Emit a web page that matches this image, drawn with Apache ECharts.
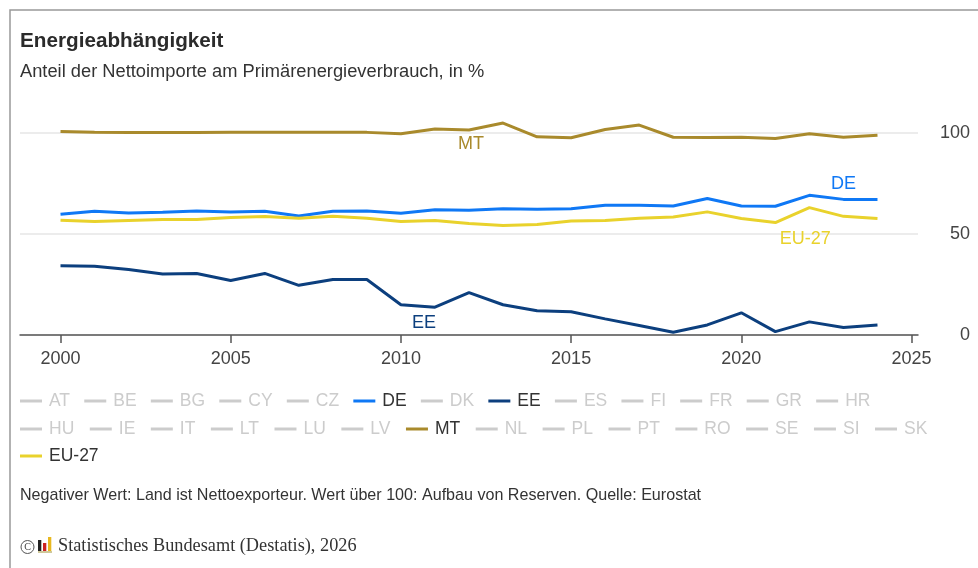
<!DOCTYPE html>
<html>
<head>
<meta charset="utf-8">
<title>Energieabhängigkeit</title>
<script src="https://cdn.jsdelivr.net/npm/echarts@6/dist/echarts.min.js"></script>
<style>
  html, body { margin: 0; padding: 0; background: #fff; }
  #chart { width: 978px; height: 568px; }
</style>
</head>
<body>
<div id="chart"></div>
<script>
const years = [2000, 2001, 2002, 2003, 2004, 2005, 2006, 2007, 2008, 2009, 2010, 2011, 2012,
  2013, 2014, 2015, 2016, 2017, 2018, 2019, 2020, 2021, 2022, 2023, 2024]
const xTicks = [2000, 2005, 2010, 2015, 2020, 2025]

const valuesMT = [100.8, 100.4, 100.3, 100.3, 100.3, 100.5, 100.5, 100.5, 100.5, 100.4, 99.7, 102.1, 101.6,
  105, 98.2, 97.7, 101.8, 104, 98, 97.8, 98, 97.4, 99.7, 98, 99]
const valuesDE = [59.8, 61.3, 60.5, 60.8, 61.4, 60.9, 61.3, 59, 61.3, 61.4, 60.3, 62.1, 61.8,
  62.5, 62.3, 62.6, 64.3, 64.3, 63.9, 67.6, 63.9, 63.8, 69.2, 67.2, 67.2]
const valuesEU = [56.8, 56.2, 56.7, 57.2, 57.2, 58.2, 58.7, 57.8, 58.8, 57.8, 56.2, 56.7, 55.3,
  54.3, 54.8, 56.5, 56.7, 57.8, 58.5, 61, 57.7, 55.7, 63.1, 58.8, 57.7]
const valuesEE = [34.3, 34.1, 32.5, 30.2, 30.5, 27, 30.5, 24.6, 27.5, 27.5, 15, 13.8, 21,
  15, 12, 11.5, 8, 4.7, 1.4, 5, 11, 1.7, 6.5, 3.7, 4.9]

const legendRow1 = ['AT', 'BE', 'BG', 'CY', 'CZ', 'DE', 'DK', 'EE', 'ES', 'FI', 'FR', 'GR', 'HR']
const legendRow2 = ['HU', 'IE', 'IT', 'LT', 'LU', 'LV', 'MT', 'NL', 'PL', 'PT', 'RO', 'SE', 'SI', 'SK']
const legendRow3 = ['EU-27']
const shown = ['DE', 'EE', 'MT', 'EU-27']

const titleText = 'Energieabhängigkeit'
const subtitleText = 'Anteil der Nettoimporte am Primärenergieverbrauch, in %'
const noteText = 'Negativer Wert: Land ist Nettoexporteur. Wert über 100: Aufbau von Reserven. Quelle: Eurostat'
const copyrightText = 'Statistisches Bundesamt (Destatis), 2026'

const FONT = '"Liberation Sans", Arial, sans-serif'
const colors = { DE: '#0f78f5', EE: '#0c3f7e', MT: '#a98a2c', 'EU-27': '#e9d22c' }

// where the direct label sits on each highlighted line
const directLabels = {
  DE: { year: 2023, position: 'top', offset: [0, -1] },
  EE: { year: 2011, position: 'bottom', offset: [-11, 2] },
  MT: { year: 2012, position: 'bottom', offset: [2, 0] },
  'EU-27': { year: 2021, position: 'bottom', offset: [30, 2] }
}

function lineSeries (name, values) {
  const lab = directLabels[name]
  const i = years.indexOf(lab.year)
  return {
    name: name,
    type: 'line',
    symbol: 'none',
    silent: true,
    z: 5,
    lineStyle: { width: 3, color: colors[name] },
    itemStyle: { color: colors[name] },
    data: values.map((v, k) => [years[k], v]),
    markPoint: {
      silent: true,
      symbol: 'circle',
      symbolSize: 0,
      itemStyle: { color: 'transparent' },
      label: {
        show: true,
        formatter: name,
        position: lab.position,
        offset: lab.offset,
        color: colors[name],
        fontFamily: FONT,
        fontSize: 18
      },
      data: [{ coord: [years[i], values[i]] }]
    }
  }
}

const allNames = legendRow1.concat(legendRow2, legendRow3)
const selected = {}
allNames.forEach(n => { selected[n] = shown.indexOf(n) >= 0 })

function legendRow (names, top, gap) {
  return {
    left: 20,
    top: top,
    orient: 'horizontal',
    data: names,
    selected: selected,
    selectedMode: false,
    icon: 'rect',
    padding: 0,
    itemGap: gap,
    itemWidth: 22,
    itemHeight: 3,
    inactiveColor: '#cccccc',
    textStyle: { fontFamily: FONT, fontSize: 17.5, color: '#333333', padding: [0, 0, 0, 2] }
  }
}

const valueSeries = { DE: valuesDE, EE: valuesEE, MT: valuesMT, 'EU-27': valuesEU }
const series = allNames.map(name => {
  if (valueSeries[name]) return lineSeries(name, valueSeries[name])
  return { name: name, type: 'line', symbol: 'none', lineStyle: { width: 3, color: '#cccccc' }, itemStyle: { color: '#cccccc' }, data: [] }
})

const chart = echarts.init(document.getElementById('chart'), null, { renderer: 'canvas' })
chart.setOption({
  animation: false,
  backgroundColor: '#fff',
  title: [
    { text: titleText, left: 20, top: 31, padding: 0, textStyle: { fontFamily: FONT, fontSize: 20.7, fontWeight: 'bold', color: '#2b2b2b' } },
    { text: subtitleText, left: 20, top: 63, padding: 0, textStyle: { fontFamily: FONT, fontSize: 18.3, fontWeight: 'normal', color: '#333333' } },
    { text: noteText, left: 20, top: 488, padding: 0, textStyle: { fontFamily: FONT, fontSize: 16.1, fontWeight: 'normal', color: '#333333' } },
    { text: copyrightText, left: 58, top: 537, padding: 0, textStyle: { fontFamily: '"Liberation Serif", serif', fontSize: 18.3, fontWeight: 'normal', color: '#333333' } }
  ],
  legend: [legendRow(legendRow1, 392, 14.2), legendRow(legendRow2, 420, 15.5), legendRow(legendRow3, 447, 13)],
  grid: { left: 20, right: 60, top: 113, bottom: 233, containLabel: false },
  xAxis: {
    type: 'value',
    min: 1998.81,
    max: 2025.19,
    splitLine: { show: false },
    axisLine: { lineStyle: { color: '#555555', width: 1.5 } },
    axisTick: { show: true, length: 8, customValues: xTicks, lineStyle: { color: '#555555', width: 1.5 } },
    axisLabel: {
      customValues: xTicks,
      formatter: v => String(v),
      margin: 15,
      color: '#444444',
      fontFamily: FONT,
      fontSize: 18
    }
  },
  yAxis: {
    type: 'value',
    position: 'right',
    min: 0,
    max: 110,
    interval: 50,
    axisLine: { show: false },
    axisTick: { show: false },
    splitLine: { show: true, showMaxLine: false, lineStyle: { color: '#e6e6e6', width: 1.5 } },
    axisLabel: {
      showMaxLabel: false,
      align: 'right',
      margin: 52,
      padding: [2, 0, 0, 0],
      color: '#444444',
      fontFamily: FONT,
      fontSize: 18
    }
  },
  series: series,
  graphic: [
    // frame, open at the right and bottom edges of the page
    { type: 'rect', shape: { x: 10, y: 10, width: 1100, height: 700 }, style: { fill: 'none', stroke: '#999999', lineWidth: 1.5 }, silent: true },
    // copyright sign
    { type: 'circle', shape: { cx: 27.5, cy: 547, r: 6.5 }, style: { fill: 'none', stroke: '#555555', lineWidth: 1 }, silent: true },
    { type: 'text', style: { x: 27.5, y: 547, text: 'C', align: 'center', verticalAlign: 'middle', font: '10px "Liberation Serif", serif', fill: '#444444' }, silent: true },
    // small Destatis logo
    { type: 'rect', shape: { x: 38, y: 551, width: 14, height: 2 }, style: { fill: '#cfc89a' }, silent: true },
    { type: 'rect', shape: { x: 38, y: 540, width: 3.3, height: 11 }, style: { fill: '#222222' }, silent: true },
    { type: 'rect', shape: { x: 43, y: 543, width: 3.3, height: 8 }, style: { fill: '#cc2222' }, silent: true },
    { type: 'rect', shape: { x: 48, y: 537, width: 3.3, height: 14 }, style: { fill: '#e8b820' }, silent: true }
  ]
})
</script>
</body>
</html>
